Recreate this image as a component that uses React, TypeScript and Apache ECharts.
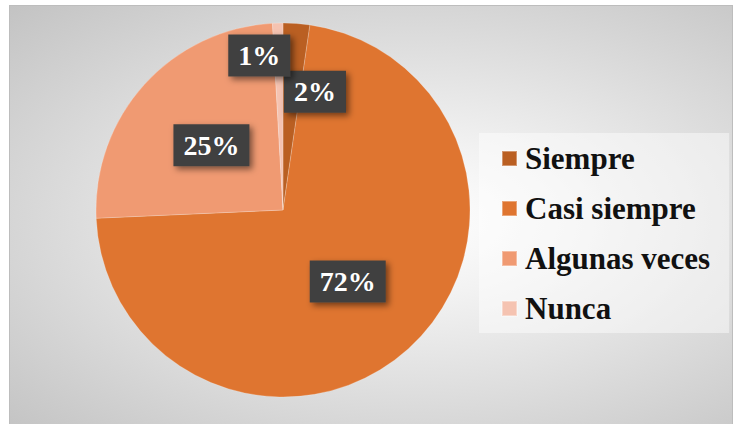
import React, { useEffect, useRef } from "react";
import * as echarts from "echarts";

const categories = ["Siempre", "Casi siempre", "Algunas veces", "Nunca"];
const values = [2.3, 72.0, 24.8, 0.9];
const colors = ["#BA5F22", "#DF7530", "#F09A72", "#F5C3B1"];
// manual label nudges (Excel moved the two small labels)
const labelNudges: [number, number][] = [[25, -22], [0, 0], [0, 0], [-21, -58]];

export default function App() {
  const ref = useRef<HTMLDivElement>(null);
  useEffect(() => {
    if (!ref.current) return;
    const chart = echarts.init(ref.current, null, { renderer: "svg" });
    const serif = "Liberation Serif";
    chart.setOption({
      animation: false,
      backgroundColor: "transparent",
      legend: {
        orient: "vertical",
        left: 469,
        top: 127,
        padding: [10, 19, 9, 22],
        itemGap: 19,
        itemWidth: 15,
        itemHeight: 15,
        icon: "rect",
        backgroundColor: "rgba(255,255,255,0.45)",
        data: categories,
        textStyle: {
          fontFamily: serif,
          fontWeight: "bold",
          fontSize: 31,
          lineHeight: 31,
          color: "#111",
          padding: [0, 0, 0, 3],
        },
      },
      series: [
        {
          type: "pie",
          center: [273, 204],
          radius: 187,
          startAngle: 90,
          clockwise: true,
          silent: true,
          itemStyle: { borderColor: "rgba(255,255,255,0.35)", borderWidth: 0.6 },
          data: categories.map((c, i) => ({
            name: c,
            value: values[i],
            itemStyle: { color: colors[i] },
          })),
          label: {
            show: true,
            position: "inside",
            formatter: (p: any) => Math.round(p.percent) + "%",
            fontFamily: serif,
            fontWeight: "bold",
            fontSize: 28,
            lineHeight: 28,
            color: "#ffffff",
            backgroundColor: "#404040",
            padding: [7, 10, 7, 10],
            shadowColor: "rgba(0,0,0,0.5)",
            shadowBlur: 6,
            shadowOffsetX: 3,
            shadowOffsetY: 3,
          },
          labelLine: { show: false },
          labelLayout: (params: any) => {
            const n = labelNudges[params.dataIndex];
            return { dx: n[0], dy: n[1] };
          },
        },
      ],
    });
    return () => chart.dispose();
  }, []);
  return (
    <div
      style={{
        position: "absolute",
        left: 9,
        top: 5,
        width: 724,
        height: 430,
        boxSizing: "border-box",
        border: "1px solid #bdbdbd",
        background:
          "radial-gradient(ellipse farthest-corner at 56% 50%, #ffffff 0%, #f2f2f2 25%, #c3c3c3 100%)",
      }}
    >
      <div ref={ref} style={{ width: 722, height: 428 }} />
    </div>
  );
}
